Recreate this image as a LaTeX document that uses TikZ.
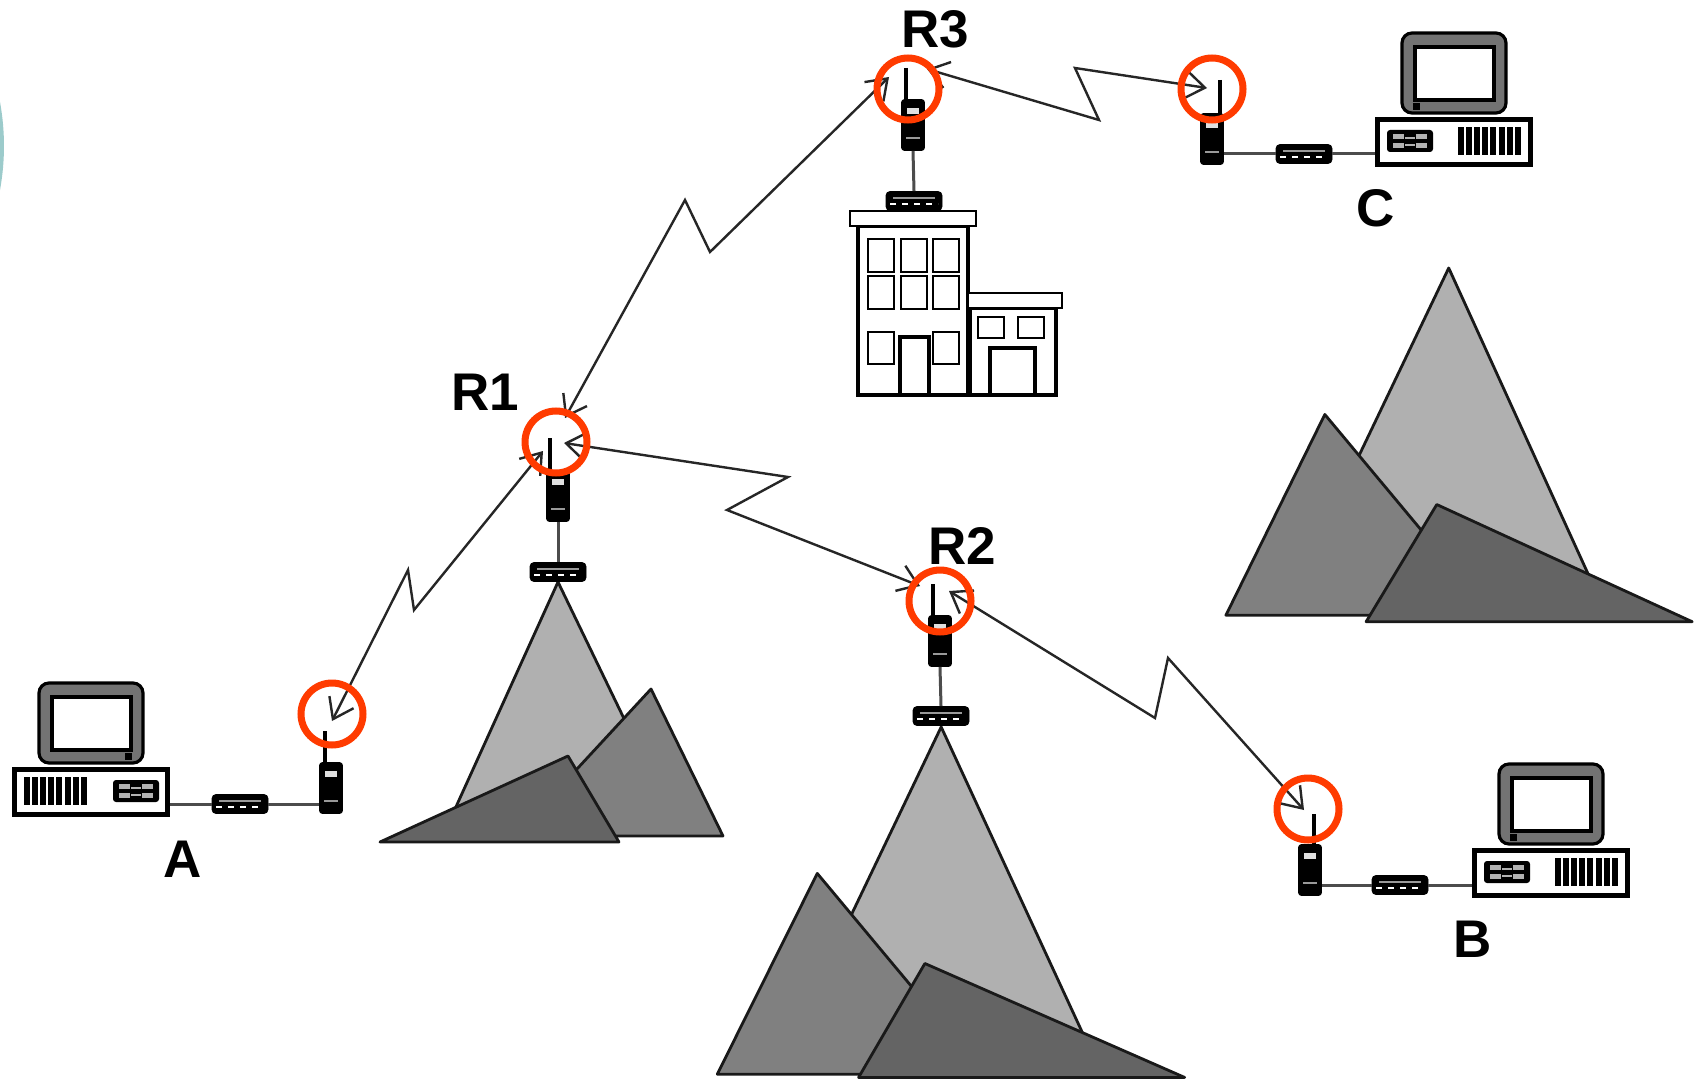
\documentclass[tikz,border=0pt]{standalone}
\usepackage{fontspec}
\setmainfont{Liberation Sans}
\usetikzlibrary{arrows.meta}
\definecolor{mlight}{HTML}{B0B0B0}
\definecolor{mmid}{HTML}{808080}
\definecolor{mdark}{HTML}{646464}
\definecolor{redring}{HTML}{FF3B00}
\definecolor{tealarc}{HTML}{9CCBCB}
\tikzset{
  labeltext/.style={font=\bfseries\fontsize{26.5}{30}\selectfont,inner sep=0pt,text=black},
  radiobody/.style={draw=black,fill=black,rounded corners=1.5pt,minimum width=11.5pt,minimum height=25.5pt,inner sep=0pt},
  modembody/.style={draw=black,fill=black,rounded corners=2pt,minimum width=28pt,minimum height=9.5pt,inner sep=0pt},
  cable/.style={draw=black!70,line width=1.5pt},
  antenna/.style={draw=black,line width=2.2pt},
  hop/.style={draw=black!85,line width=1.2pt,{Straight Barb[length=9.5pt,width=13.5pt,line width=1.2pt]}-{Straight Barb[length=9.5pt,width=13.5pt,line width=1.2pt]}},
  ring/.style={draw=redring,line width=3.5pt},
  peak/.style={draw=black!90,line width=1.4pt,line join=round},
  blg/.style={draw=black,line width=1.4pt,fill=white},
  blgthick/.style={draw=black,line width=2pt,fill=white},
  ringsize/.style={ring,circle,minimum size=31pt,inner sep=0pt}
}
% name, left x, top y, vents offset, panel offset, knob offset
\newcommand{\computerunit}[6]{%
  \begin{scope}[shift={(#2,#3)}]
    \draw[draw=black,line width=1.6pt,fill=black!55,rounded corners=5pt] (27,-84) rectangle (131,-4);
    \draw[draw=black,line width=1.6pt,fill=white] (40,-70) rectangle (119,-17);
    \fill[black] (#6,-14) rectangle ({#6+7},-7);
    \node[draw=black,line width=2.4pt,fill=white,minimum width=76.5pt,minimum height=22.5pt,inner sep=0pt,anchor=north west] (pc#1) at (0,0) {};
    \foreach \k in {0,1,2,3,4,5,6,7}{\fill[black] ({#4+\k*8.1},10) rectangle ({#4+\k*8.1+6},38);}
    \fill[black,rounded corners=1.5pt] (#5,13) rectangle ({#5+46},35);
    \fill[black!30] ({#5+6},17) rectangle ({#5+17},22);
    \fill[black!30] ({#5+6},26) rectangle ({#5+17},31);
    \fill[black!30] ({#5+29},17) rectangle ({#5+40},22);
    \fill[black!30] ({#5+29},26) rectangle ({#5+40},31);
    \draw[black!30,line width=0.6pt] ({#5+18},21) -- ({#5+28},21);
    \draw[black!30,line width=0.6pt] ({#5+18},28) -- ({#5+28},28);
  \end{scope}}
% name, centre x, centre y
\newcommand{\modemunit}[3]{%
  \node[modembody] (mod#1) at (#2,#3) {};
  \draw[black!40,line width=0.8pt] ({#2-21},{#3-3}) -- ({#2+21},{#3-3});
  \draw[white,line width=0.6pt,dash pattern=on 3pt off 3pt] ({#2-24},{#3+3}) -- ({#2+24},{#3+3});}
% name, centre x, centre y, antenna x, antenna top y
\newcommand{\radiounit}[5]{%
  \draw[antenna] (#4,#5) -- (#4,{#3-25});
  \node[radiobody] (rad#1) at (#2,#3) {};
  \fill[black!12] ({#2-6},{#3-17}) rectangle ({#2+6},{#3-11});
  \draw[black!40,line width=0.8pt] ({#2-7},{#3+13}) -- ({#2+7},{#3+13});}
\begin{document}
\begin{tikzpicture}[x=0.5pt,y=-0.5pt]
\useasboundingbox (0,0) rectangle (1703,1081);
\fill[white] (0,0) rectangle (1703,1081);
\fill[tealarc] (0,102) .. controls (5.3,131) and (5.3,161) .. (0,190) -- cycle;

% mountains
\filldraw[peak,fill=mlight] (558,582) -- (450,820) -- (673,820) -- cycle;
\filldraw[peak,fill=mmid] (651,689) -- (723,836) -- (515,836) -- cycle;
\filldraw[peak,fill=mdark] (380,842) -- (568,756) -- (619,842) -- cycle;
\begin{scope}[xscale=1.0868,yscale=1.085]
  % under R2
  \filldraw[peak,fill=mlight] (866,670) -- (1009,980) -- (718,980) -- cycle;
  \filldraw[peak,fill=mmid] (752,805) -- (660,990) -- (906,990) -- cycle;
  \filldraw[peak,fill=mdark] (790,993) -- (851,888) -- (1090,993) -- cycle;
  % right group
  \filldraw[peak,fill=mlight] (1333,247) -- (1474,557) -- (1185,557) -- cycle;
  \filldraw[peak,fill=mmid] (1219,382) -- (1128,567) -- (1373,567) -- cycle;
  \filldraw[peak,fill=mdark] (1257,573) -- (1322,465) -- (1557,573) -- cycle;
\end{scope}

% building
\draw[blgthick] (858,226) rectangle (968,395);
\draw[blg] (850,211) rectangle (976,226);
\foreach \wx in {868,901,933}{
  \draw[blg] (\wx,239) rectangle ++(26,33);
  \draw[blg] (\wx,276) rectangle ++(26,33);}
\draw[blg] (868,332) rectangle ++(26,32);
\draw[blg] (933,332) rectangle ++(26,32);
\draw[blgthick] (900,337) rectangle (929,395);
\draw[blgthick] (970,308) rectangle (1056,395);
\draw[blg] (968,293) rectangle (1062,308);
\draw[blg] (978,317) rectangle ++(26,21);
\draw[blg] (1018,317) rectangle ++(26,21);
\draw[blgthick] (990,348) rectangle (1035,395);

% stations
\computerunit{A}{12}{767}{12}{101}{113}
\computerunit{B}{1472}{848}{83}{12}{38}
\computerunit{C}{1375}{117}{83}{12}{38}

\modemunit{A}{240}{804}
\modemunit{B}{1400}{885}
\modemunit{C}{1304}{154}
\modemunit{Ra}{558}{572}
\modemunit{Rb}{941}{716}
\modemunit{Rc}{914}{201}

\radiounit{A}{331}{788}{325}{731}
\radiounit{B}{1310}{870}{1314}{814}
\radiounit{C}{1212}{139}{1220}{80}
\radiounit{Ra}{558}{496}{550}{438}
\radiounit{Rb}{940}{641}{933}{584}
\radiounit{Rc}{913}{125}{906}{68}

\draw[cable] (pcA.east |- modA) -- (modA.west);
\draw[cable] (modA.east) -- (radA.west |- modA);
\draw[cable] (pcB.west |- modB) -- (modB.east);
\draw[cable] (modB.west) -- (radB.east |- modB);
\draw[cable] (pcC.west |- modC) -- (modC.east);
\draw[cable] (modC.west) -- (radC.east |- modC);
\draw[cable] (radRa.south) -- (modRa.north);
\draw[cable] (radRb.south) -- (modRb.north);
\draw[cable] (radRc.south) -- (modRc.north);

% hop end points
\coordinate (tipA) at (332,721);
\coordinate (kA1) at (408,570);
\coordinate (kA2) at (414,610);
\coordinate (tipR1a) at (543,451);
\coordinate (tipR1b) at (565,418);
\coordinate (kB1) at (685,200);
\coordinate (kB2) at (710,252);
\coordinate (tipR3a) at (889,77);
\coordinate (tipR3b) at (927,69);
\coordinate (kC1) at (1099,120);
\coordinate (kC2) at (1075,68);
\coordinate (tipC) at (1207,88);
\coordinate (tipR1c) at (564,443);
\coordinate (kD1) at (788,477);
\coordinate (kD2) at (727,510);
\coordinate (tipR2a) at (920,586);
\coordinate (tipR2b) at (949,591);
\coordinate (kE1) at (1155,718);
\coordinate (kE2) at (1168,658);
\coordinate (tipB) at (1304,810);

\draw[hop] (tipA) -- (kA1) -- (kA2) -- (tipR1a);
\draw[hop] (tipR1b) -- (kB1) -- (kB2) -- (tipR3a);
\draw[hop] (tipR3b) -- (kC1) -- (kC2) -- (tipC);
\draw[hop] (tipR1c) -- (kD1) -- (kD2) -- (tipR2a);
\draw[hop] (tipR2b) -- (kE1) -- (kE2) -- (tipB);

% rings
\node[ringsize] (ringA) at (332,714) {};
\node[ringsize] (ringB) at (1308,809) {};
\node[ringsize] (ringC) at (1212,89) {};
\node[ringsize] (ringR1) at (556,442) {};
\node[ringsize] (ringR2) at (940,601) {};
\node[ringsize] (ringR3) at (908,89) {};

% labels
\node[labeltext] (lA) at (183,859) {A};
\node[labeltext] (lB) at (1473,939) {B};
\node[labeltext] (lC) at (1376,208) {C};
\node[labeltext] (lR1) at (485,392) {R1};
\node[labeltext] (lR2) at (962,546) {R2};
\node[labeltext] (lR3) at (935,29) {R3};
\end{tikzpicture}
\end{document}
